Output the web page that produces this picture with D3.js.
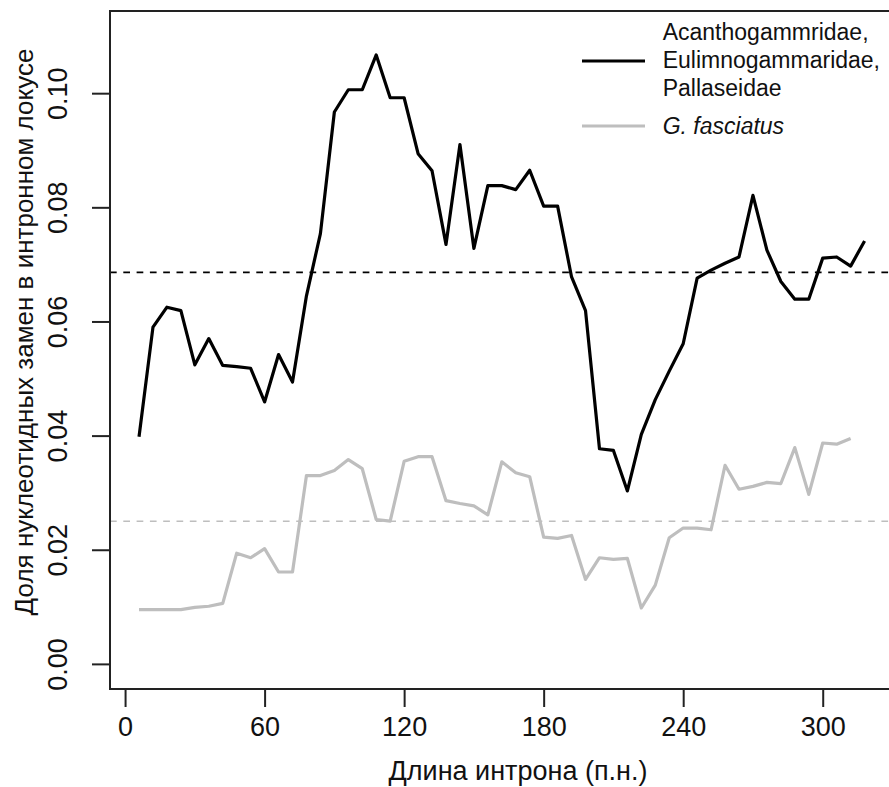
<!DOCTYPE html>
<html>
<head>
<meta charset="utf-8">
<script src="https://cdn.jsdelivr.net/npm/d3@7"></script>
<style>
  html, body { margin: 0; padding: 0; background: #fff; }
  svg { display: block; font-family: "Liberation Sans", Arial, sans-serif; }
</style>
</head>
<body>
<svg id="chart" width="889" height="787"></svg>
<script>
// Intron positions (bp) for each sliding-window value
const positions = [6, 12, 18, 24, 30, 36, 42, 48, 54, 60, 66, 72, 78, 84, 90, 96, 102, 108,
  114, 120, 126, 132, 138, 144, 150, 156, 162, 168, 174, 180, 186, 192, 198, 204, 210, 216,
  222, 228, 234, 240, 246, 252, 258, 264, 270, 276, 282, 288, 294, 300, 306, 312, 318];

// Acanthogammridae, Eulimnogammaridae, Pallaseidae
const baikalValues = [0.0398, 0.0590, 0.0625, 0.0619, 0.0524, 0.0570, 0.0523, 0.0521, 0.0518,
  0.0459, 0.0542, 0.0494, 0.0645, 0.0754, 0.0967, 0.1006, 0.1006, 0.1067, 0.0992, 0.0992,
  0.0894, 0.0864, 0.0735, 0.0910, 0.0728, 0.0838, 0.0838, 0.0831, 0.0865, 0.0802, 0.0802,
  0.0678, 0.0619, 0.0377, 0.0374, 0.0303, 0.0402, 0.0463, 0.0513, 0.0561, 0.0676, 0.0690,
  0.0702, 0.0713, 0.0821, 0.0725, 0.0670, 0.0639, 0.0639, 0.0711, 0.0713, 0.0697, 0.0741];

// G. fasciatus (one window shorter)
const fasciatusValues = [0.0095, 0.0095, 0.0095, 0.0095, 0.0099, 0.0101, 0.0106, 0.0194, 0.0186,
  0.0202, 0.0161, 0.0161, 0.0330, 0.0330, 0.0339, 0.0358, 0.0342, 0.0253, 0.0250, 0.0355,
  0.0363, 0.0363, 0.0286, 0.0281, 0.0277, 0.0261, 0.0354, 0.0335, 0.0328, 0.0222, 0.0220,
  0.0225, 0.0148, 0.0186, 0.0183, 0.0185, 0.0098, 0.0138, 0.0221, 0.0238, 0.0238, 0.0235,
  0.0348, 0.0306, 0.0311, 0.0318, 0.0316, 0.0379, 0.0297, 0.0387, 0.0385, 0.0395];

// Mean levels drawn as dashed reference lines
const baikalMean = 0.0686;
const fasciatusMean = 0.025;

const xTicks = [0, 60, 120, 180, 240, 300];
const yTicks = [0.00, 0.02, 0.04, 0.06, 0.08, 0.10];
const legendLabels = [["Acanthogammridae,", "Eulimnogammaridae,", "Pallaseidae"], ["G. fasciatus"]];
const xTitle = "Длина интрона (п.н.)";
const yTitle = "Доля нуклеотидных замен в интронном локусе";

const BLACK = "#000000", GREY = "#bebebe", AXIS = "#222222";

const svg = d3.select("#chart");
const plot = { left: 110, right: 893.6, top: 11, bottom: 689 };

const x = d3.scaleLinear().domain([-6.48, 330.48]).range([plot.left, plot.right]);
const y = d3.scaleLinear().domain([-0.0044, 0.1144]).range([plot.bottom, plot.top]);

// Reference lines
svg.append("line")
  .attr("x1", plot.left).attr("x2", plot.right)
  .attr("y1", y(fasciatusMean)).attr("y2", y(fasciatusMean))
  .attr("stroke", GREY).attr("stroke-width", 1.6).attr("stroke-dasharray", "6.7 6.6");
svg.append("line")
  .attr("x1", plot.left).attr("x2", plot.right)
  .attr("y1", y(baikalMean)).attr("y2", y(baikalMean))
  .attr("stroke", BLACK).attr("stroke-width", 1.6).attr("stroke-dasharray", "6.7 6.6");

const line = d3.line().x(d => x(d[0])).y(d => y(d[1]));

svg.append("path")
  .datum(fasciatusValues.map((v, i) => [positions[i], v]))
  .attr("d", line).attr("fill", "none")
  .attr("stroke", GREY).attr("stroke-width", 3.2).attr("stroke-linejoin", "round");

svg.append("path")
  .datum(baikalValues.map((v, i) => [positions[i], v]))
  .attr("d", line).attr("fill", "none")
  .attr("stroke", BLACK).attr("stroke-width", 3.2).attr("stroke-linejoin", "round");

// Box around the plotting region
svg.append("rect")
  .attr("x", plot.left).attr("y", plot.top)
  .attr("width", plot.right - plot.left).attr("height", plot.bottom - plot.top)
  .attr("fill", "none").attr("stroke", AXIS).attr("stroke-width", 2);

// X axis
const xAxis = svg.append("g")
  .attr("transform", `translate(0,${plot.bottom})`)
  .call(d3.axisBottom(x).tickValues(xTicks).tickFormat(d3.format("d"))
    .tickSize(18).tickPadding(9.8).tickSizeOuter(0));
xAxis.select(".domain").remove();
xAxis.selectAll(".tick line").attr("stroke", AXIS).attr("stroke-width", 2);
xAxis.selectAll(".tick text").attr("fill", "#111").style("font-size", "27px")
  .style("font-family", "'Liberation Sans', Arial, sans-serif");

// Y axis with labels parallel to the axis
const yAxis = svg.append("g")
  .attr("transform", `translate(${plot.left},0)`)
  .call(d3.axisLeft(y).tickValues(yTicks).tickFormat(d3.format(".2f"))
    .tickSize(18).tickSizeOuter(0));
yAxis.select(".domain").remove();
yAxis.selectAll(".tick line").attr("stroke", AXIS).attr("stroke-width", 2);
yAxis.selectAll(".tick text")
  .attr("transform", "rotate(-90)")
  .attr("x", 0).attr("y", -43).attr("dy", 0)
  .attr("text-anchor", "middle")
  .attr("fill", "#111").style("font-size", "27px")
  .style("font-family", "'Liberation Sans', Arial, sans-serif");

// Axis titles
svg.append("text")
  .attr("x", 518).attr("y", 780)
  .attr("text-anchor", "middle").attr("fill", "#111")
  .style("font-size", "27px").text(xTitle);
svg.append("text")
  .attr("transform", "translate(33,332) rotate(-90)")
  .attr("text-anchor", "middle").attr("fill", "#111")
  .style("font-size", "26px").text(yTitle);

// Legend
const legend = svg.append("g");
const legendKeys = [
  { color: BLACK, lineY: 61, baselines: [40, 68, 96], italic: false },
  { color: GREY, lineY: 126, baselines: [134], italic: true }
];
legendKeys.forEach((k, i) => {
  legend.append("line")
    .attr("x1", 582).attr("x2", 645).attr("y1", k.lineY).attr("y2", k.lineY)
    .attr("stroke", k.color).attr("stroke-width", 3.2);
  legendLabels[i].forEach((t, j) => {
    legend.append("text")
      .attr("x", 662.7).attr("y", k.baselines[j])
      .attr("fill", "#111").style("font-size", "23px")
      .style("font-style", k.italic ? "italic" : "normal")
      .text(t);
  });
});
</script>
</body>
</html>
